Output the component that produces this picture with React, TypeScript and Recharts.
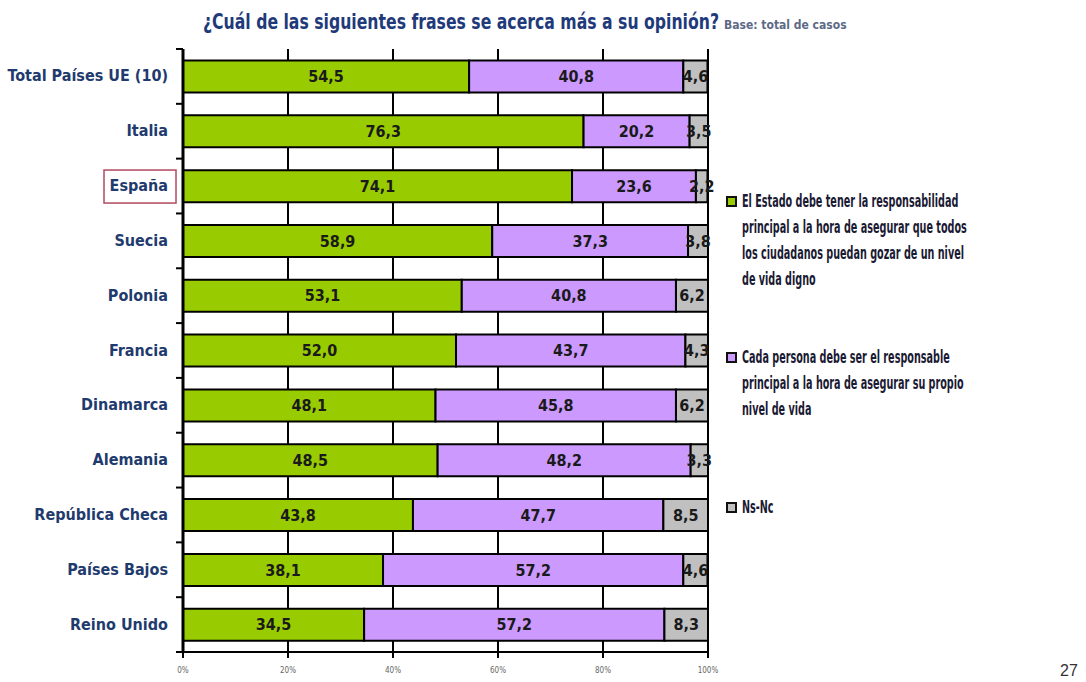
import React from "react";
import {
  BarChart,
  Bar,
  XAxis,
  YAxis,
  CartesianGrid,
  LabelList,
} from "recharts";

const countries = [
  "Total Países UE (10)",
  "Italia",
  "España",
  "Suecia",
  "Polonia",
  "Francia",
  "Dinamarca",
  "Alemania",
  "República Checa",
  "Países Bajos",
  "Reino Unido",
];
const estado = [54.5, 76.3, 74.1, 58.9, 53.1, 52.0, 48.1, 48.5, 43.8, 38.1, 34.5];
const persona = [40.8, 20.2, 23.6, 37.3, 40.8, 43.7, 45.8, 48.2, 47.7, 57.2, 57.2];
const nsnc = [4.6, 3.5, 2.2, 3.8, 6.2, 4.3, 6.2, 3.3, 8.5, 4.6, 8.3];
const xTicks = [0, 20, 40, 60, 80, 100];

const legendItems = [
  {
    color: "#99cc00",
    lines: [
      "El Estado debe tener la responsabilidad",
      "principal a la hora de asegurar que todos",
      "los ciudadanos puedan gozar de un nivel",
      "de vida digno",
    ],
  },
  {
    color: "#cc99ff",
    lines: [
      "Cada persona debe ser el responsable",
      "principal a la hora de asegurar su propio",
      "nivel de vida",
    ],
  },
  { color: "#c0c0c0", lines: ["Ns-Nc"] },
];

const data = countries.map((name, i) => ({
  name,
  estado: estado[i],
  persona: persona[i],
  nsnc: nsnc[i],
}));

const FONT = "'DejaVu Sans Condensed', 'DejaVu Sans', sans-serif";
const W = 1086;
const H = 682;
const TOP = 49;
const BOTTOM = 652;
const BAND = (BOTTOM - TOP) / countries.length;

const fmt = (v: any) => Number(v).toFixed(1).replace(".", ",");

function CountryTick(props: any) {
  const { x, y, payload, index } = props;
  const isSpain = payload.value === "España";
  return (
    <g>
      <line x1={x - 7} y1={y - BAND / 2} x2={x} y2={y - BAND / 2} stroke="#000" strokeWidth={2} />
      {index === countries.length - 1 && (
        <line x1={x - 7} y1={y + BAND / 2} x2={x} y2={y + BAND / 2} stroke="#000" strokeWidth={2} />
      )}
      {isSpain && (
        <rect x={x - 79} y={y - 16} width={72} height={33} fill="none" stroke="#b04a60" strokeWidth={1.5} />
      )}
      <text
        x={x - 15}
        y={y}
        dy={5}
        textAnchor="end"
        fontFamily={FONT}
        fontSize={16}
        fontWeight="bold"
        fill="#1f3b6e"
      >
        {payload.value}
      </text>
    </g>
  );
}

const labelStyle = { fontFamily: FONT, fontSize: 16, fontWeight: "bold" as const, fill: "#1a1a1a" };

const legendTops = [188, 344, 494];

export default function App() {
  return (
    <div style={{ position: "absolute", left: 0, top: 0, width: W, height: H, background: "#fff" }}>
      <div
        style={{
          position: "absolute",
          left: 203,
          top: 10,
          fontFamily: FONT,
          whiteSpace: "nowrap",
          color: "#1f3a7a",
          fontSize: 21,
          fontWeight: "bold",
          transform: "scaleX(0.83)",
          transformOrigin: "left top",
        }}
      >
        ¿Cuál de las siguientes frases se acerca más a su opinión?
      </div>
      <div
        style={{
          position: "absolute",
          left: 724,
          top: 18,
          fontFamily: FONT,
          whiteSpace: "nowrap",
          fontSize: 12,
          fontWeight: "bold",
          color: "#5d6a86",
        }}
      >
        Base: total de casos
      </div>

      <BarChart
        width={W}
        height={H}
        data={data}
        layout="vertical"
        margin={{ top: TOP, right: W - 708, bottom: 0, left: 0 }}
        barCategoryGap="21%"
      >
        <CartesianGrid horizontal={false} stroke="#000" strokeWidth={2} />
        <XAxis
          type="number"
          domain={[0, 100]}
          allowDataOverflow
          ticks={xTicks}
          tickFormatter={(v: any) => `${v}%`}
          height={H - BOTTOM}
          axisLine={{ stroke: "#000", strokeWidth: 2 }}
          tickLine={{ stroke: "#000", strokeWidth: 2 }}
          tickSize={6}
          tickMargin={9}
          tick={{ fontFamily: FONT, fontSize: 8, fill: "#666" }}
        />
        <YAxis
          type="category"
          dataKey="name"
          width={183}
          axisLine={{ stroke: "#000", strokeWidth: 3 }}
          tickLine={false}
          tickSize={0}
          tickMargin={0}
          interval={0}
          tick={<CountryTick />}
        />
        <Bar dataKey="estado" stackId="a" fill="#99cc00" stroke="#000" strokeWidth={2} isAnimationActive={false}>
          <LabelList dataKey="estado" position="center" formatter={fmt} style={labelStyle} />
        </Bar>
        <Bar dataKey="persona" stackId="a" fill="#cc99ff" stroke="#000" strokeWidth={2} isAnimationActive={false}>
          <LabelList dataKey="persona" position="center" formatter={fmt} style={labelStyle} />
        </Bar>
        <Bar dataKey="nsnc" stackId="a" fill="#c0c0c0" stroke="#000" strokeWidth={2} isAnimationActive={false}>
          <LabelList dataKey="nsnc" position="center" formatter={fmt} style={labelStyle} />
        </Bar>
      </BarChart>

      {legendItems.map((it, i) => (
        <div
          key={i}
          style={{ position: "absolute", left: 726, top: legendTops[i], fontFamily: FONT, display: "flex" }}
        >
          <span
            style={{
              width: 7,
              height: 7,
              border: "2.5px solid #111",
              background: it.color,
              marginTop: 8,
              marginRight: 5,
              flexShrink: 0,
            }}
          />
          <div>
            {it.lines.map((ln, j) => (
              <div
                key={j}
                style={{
                  fontSize: 17,
                  fontWeight: "bold",
                  lineHeight: "26px",
                  height: 26,
                  color: "#1a1a33",
                  whiteSpace: "nowrap",
                  transform: "scaleX(0.63)",
                  transformOrigin: "left top",
                }}
              >
                {ln}
              </div>
            ))}
          </div>
        </div>
      ))}

      <div
        style={{
          position: "absolute",
          left: 1060,
          top: 662,
          fontFamily: "'Liberation Sans', sans-serif",
          fontSize: 16,
          color: "#333",
        }}
      >
        27
      </div>
    </div>
  );
}
